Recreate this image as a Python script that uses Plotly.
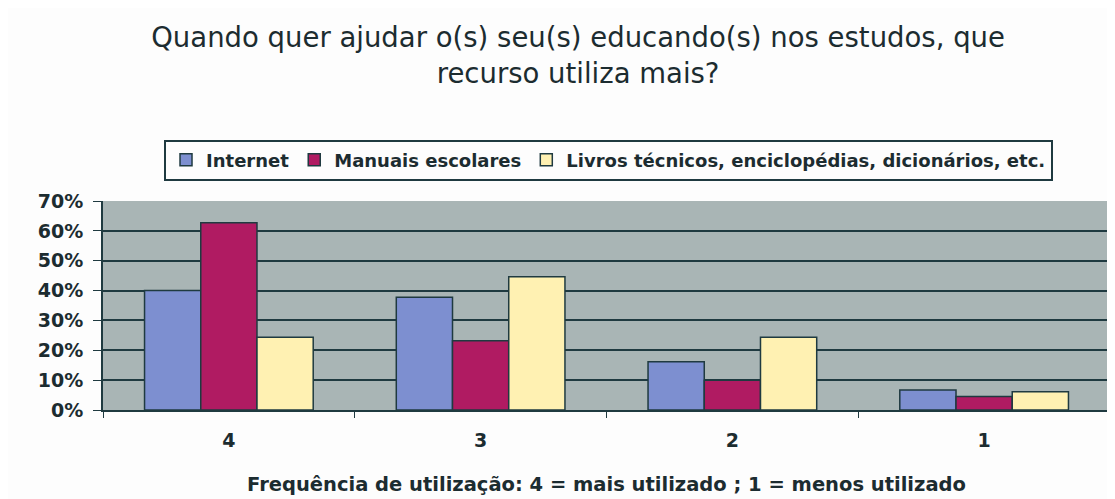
import plotly.graph_objects as go

categorias = ["4", "3", "2", "1"]
internet = [40.0, 37.8, 16.2, 6.7]
manuais = [62.7, 23.2, 10.0, 4.5]
livros = [24.4, 44.6, 24.4, 6.1]

nomes = ["Internet", "Manuais escolares", "Livros técnicos, enciclopédias, dicionários, etc."]
cores = ["#7d8fd0", "#b01b62", "#fff1b2"]

fig = go.Figure()
for nome, valores, cor in zip(nomes, [internet, manuais, livros], cores):
    fig.add_trace(go.Bar(
        x=categorias,
        y=valores,
        name=f"<b>{nome}</b>",
        marker=dict(color=cor, line=dict(color="#1f3a40", width=1.5)),
    ))

# page body adds 8px margin, so the figure is sized to fit the window
fig.update_layout(
    width=1107,
    height=491,
    barmode="group",
    bargap=0.33,
    bargroupgap=0,
    paper_bgcolor="#fdfdfd",
    plot_bgcolor="#a9b5b5",
    font=dict(family="DejaVu Sans, Liberation Sans", color="#1c2c30"),
    margin=dict(l=95, r=5, t=193, b=89, autoexpand=False),
    title=dict(
        text="Quando quer ajudar o(s) seu(s) educando(s) nos estudos, que<br>recurso utiliza mais?",
        x=0.515, xanchor="center",
        y=0.92, yanchor="top",
        font=dict(size=27.5, color="#1c2c30"),
    ),
    legend=dict(
        orientation="h",
        x=0.502, xanchor="center",
        y=1.196, yanchor="middle",
        bordercolor="#1f3a40", borderwidth=2,
        bgcolor="#fdfdfd",
        font=dict(size=18),
        itemwidth=30,
    ),
    showlegend=True,
)

fig.update_yaxes(
    range=[0, 70],
    dtick=10,
    ticksuffix="%",
    tickprefix="<b>",
    showgrid=True,
    gridcolor="#1f3a40",
    gridwidth=2,
    showline=True,
    linecolor="#1f3a40",
    linewidth=2,
    ticks="outside",
    ticklen=8,
    tickcolor="#1f3a40",
    tickfont=dict(size=19),
    ticklabelstandoff=6,
    zeroline=False,
    automargin=False,
)

fig.update_xaxes(
    tickprefix="<b>",
    tickson="boundaries",
    ticks="outside",
    ticklen=6,
    tickcolor="#1f3a40",
    showline=True,
    linecolor="#1f3a40",
    linewidth=2,
    tickfont=dict(size=19),
    ticklabelstandoff=12,
    automargin=False,
    title=dict(
        text="<b>Frequência de utilização: 4 = mais utilizado ; 1 = menos utilizado</b>",
        font=dict(size=19.5),
        standoff=28,
    ),
)

fig.write_html("out.html")
